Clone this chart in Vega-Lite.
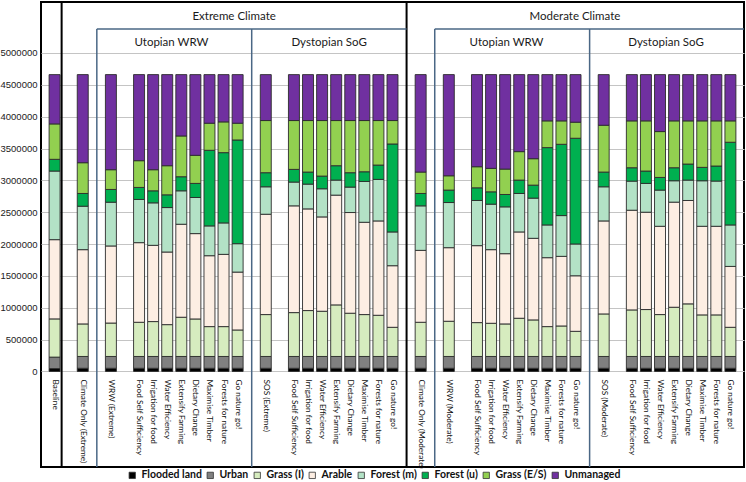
{
  "$schema": "https://vega.github.io/schema/vega-lite/v6.json",
  "width": 703,
  "height": 465,
  "autosize": {"type": "none"},
  "padding": {"left": 41, "top": 2, "right": 2, "bottom": 15},
  "background": "white",
  "config": {
    "view": {"stroke": "#000000", "strokeWidth": 2},
    "font": "Lato"
  },
  "datasets": {
    "ranks": [
      {"cover": "Flooded land", "rank": 1},
      {"cover": "Urban", "rank": 2},
      {"cover": "Grass (I)", "rank": 3},
      {"cover": "Arable", "rank": 4},
      {"cover": "Forest (m)", "rank": 5},
      {"cover": "Forest (u)", "rank": 6},
      {"cover": "Grass (E/S)", "rank": 7},
      {"cover": "Unmanaged", "rank": 8}
    ],
    "bars": [
      {"bar": "Baseline", "Flooded land": 45000, "Urban": 180000, "Grass (I)": 600000, "Arable": 1244000, "Forest (m)": 1077000, "Forest (u)": 184000, "Grass (E/S)": 556000, "Unmanaged": 774000},
      {"bar": "Climate Only (Extreme)", "Flooded land": 50000, "Urban": 185000, "Grass (I)": 511000, "Arable": 1166000, "Forest (m)": 682000, "Forest (u)": 200000, "Grass (E/S)": 483000, "Unmanaged": 1383000},
      {"bar": "WRW (Extreme)", "Flooded land": 50000, "Urban": 185000, "Grass (I)": 525000, "Arable": 1210000, "Forest (m)": 687000, "Forest (u)": 200000, "Grass (E/S)": 310000, "Unmanaged": 1493000},
      {"bar": "Food Self Sufficiency|1", "Flooded land": 50000, "Urban": 185000, "Grass (I)": 537000, "Arable": 1250000, "Forest (m)": 678000, "Forest (u)": 189000, "Grass (E/S)": 420000, "Unmanaged": 1351000},
      {"bar": "Irrigation for food|1", "Flooded land": 50000, "Urban": 185000, "Grass (I)": 548000, "Arable": 1197000, "Forest (m)": 667000, "Forest (u)": 189000, "Grass (E/S)": 331000, "Unmanaged": 1493000},
      {"bar": "Water Efficiency|1", "Flooded land": 50000, "Urban": 185000, "Grass (I)": 500000, "Arable": 1140000, "Forest (m)": 698000, "Forest (u)": 200000, "Grass (E/S)": 457000, "Unmanaged": 1430000},
      {"bar": "Extensify Farming|1", "Flooded land": 50000, "Urban": 185000, "Grass (I)": 616000, "Arable": 1460000, "Forest (m)": 525000, "Forest (u)": 221000, "Grass (E/S)": 640000, "Unmanaged": 963000},
      {"bar": "Dietary Change|1", "Flooded land": 50000, "Urban": 185000, "Grass (I)": 589000, "Arable": 1340000, "Forest (m)": 567000, "Forest (u)": 221000, "Grass (E/S)": 441000, "Unmanaged": 1267000},
      {"bar": "Maximise Timber|1", "Flooded land": 50000, "Urban": 185000, "Grass (I)": 469000, "Arable": 1113000, "Forest (m)": 468000, "Forest (u)": 1187000, "Grass (E/S)": 425000, "Unmanaged": 763000},
      {"bar": "Forests for nature|1", "Flooded land": 50000, "Urban": 185000, "Grass (I)": 469000, "Arable": 1134000, "Forest (m)": 494000, "Forest (u)": 1103000, "Grass (E/S)": 483000, "Unmanaged": 742000},
      {"bar": "Go nature go!|1", "Flooded land": 50000, "Urban": 185000, "Grass (I)": 416000, "Arable": 909000, "Forest (m)": 446000, "Forest (u)": 1628000, "Grass (E/S)": 263000, "Unmanaged": 763000},
      {"bar": "SOS (Extreme)", "Flooded land": 50000, "Urban": 185000, "Grass (I)": 658000, "Arable": 1575000, "Forest (m)": 431000, "Forest (u)": 221000, "Grass (E/S)": 819000, "Unmanaged": 721000},
      {"bar": "Food Self Sufficiency|2", "Flooded land": 50000, "Urban": 185000, "Grass (I)": 689000, "Arable": 1676000, "Forest (m)": 373000, "Forest (u)": 199000, "Grass (E/S)": 767000, "Unmanaged": 721000},
      {"bar": "Irrigation for food|2", "Flooded land": 50000, "Urban": 185000, "Grass (I)": 721000, "Arable": 1596000, "Forest (m)": 389000, "Forest (u)": 189000, "Grass (E/S)": 809000, "Unmanaged": 721000},
      {"bar": "Water Efficiency|2", "Flooded land": 50000, "Urban": 185000, "Grass (I)": 710000, "Arable": 1481000, "Forest (m)": 442000, "Forest (u)": 199000, "Grass (E/S)": 872000, "Unmanaged": 721000},
      {"bar": "Extensify Farming|2", "Flooded land": 50000, "Urban": 185000, "Grass (I)": 810000, "Arable": 1723000, "Forest (m)": 236000, "Forest (u)": 226000, "Grass (E/S)": 709000, "Unmanaged": 721000},
      {"bar": "Dietary Change|2", "Flooded land": 50000, "Urban": 185000, "Grass (I)": 679000, "Arable": 1581000, "Forest (m)": 399000, "Forest (u)": 226000, "Grass (E/S)": 819000, "Unmanaged": 721000},
      {"bar": "Maximise Timber|2", "Flooded land": 50000, "Urban": 185000, "Grass (I)": 658000, "Arable": 1449000, "Forest (m)": 641000, "Forest (u)": 152000, "Grass (E/S)": 804000, "Unmanaged": 721000},
      {"bar": "Forests for nature|2", "Flooded land": 50000, "Urban": 185000, "Grass (I)": 647000, "Arable": 1481000, "Forest (m)": 652000, "Forest (u)": 225000, "Grass (E/S)": 699000, "Unmanaged": 721000},
      {"bar": "Go nature go!|2", "Flooded land": 50000, "Urban": 185000, "Grass (I)": 458000, "Arable": 967000, "Forest (m)": 530000, "Forest (u)": 1381000, "Grass (E/S)": 368000, "Unmanaged": 721000},
      {"bar": "Climate Only (Moderate)", "Flooded land": 50000, "Urban": 185000, "Grass (I)": 537000, "Arable": 1129000, "Forest (m)": 699000, "Forest (u)": 194000, "Grass (E/S)": 336000, "Unmanaged": 1530000},
      {"bar": "WRW (Moderate)", "Flooded land": 50000, "Urban": 185000, "Grass (I)": 553000, "Arable": 1155000, "Forest (m)": 709000, "Forest (u)": 195000, "Grass (E/S)": 225000, "Unmanaged": 1588000},
      {"bar": "Food Self Sufficiency|3", "Flooded land": 50000, "Urban": 185000, "Grass (I)": 532000, "Arable": 1208000, "Forest (m)": 709000, "Forest (u)": 199000, "Grass (E/S)": 331000, "Unmanaged": 1446000},
      {"bar": "Irrigation for food|3", "Flooded land": 50000, "Urban": 185000, "Grass (I)": 521000, "Arable": 1156000, "Forest (m)": 714000, "Forest (u)": 194000, "Grass (E/S)": 368000, "Unmanaged": 1472000},
      {"bar": "Water Efficiency|3", "Flooded land": 50000, "Urban": 185000, "Grass (I)": 511000, "Arable": 1103000, "Forest (m)": 735000, "Forest (u)": 194000, "Grass (E/S)": 399000, "Unmanaged": 1483000},
      {"bar": "Extensify Farming|3", "Flooded land": 50000, "Urban": 185000, "Grass (I)": 600000, "Arable": 1355000, "Forest (m)": 604000, "Forest (u)": 210000, "Grass (E/S)": 447000, "Unmanaged": 1209000},
      {"bar": "Dietary Change|3", "Flooded land": 50000, "Urban": 185000, "Grass (I)": 574000, "Arable": 1281000, "Forest (m)": 631000, "Forest (u)": 204000, "Grass (E/S)": 415000, "Unmanaged": 1320000},
      {"bar": "Maximise Timber|3", "Flooded land": 50000, "Urban": 185000, "Grass (I)": 469000, "Arable": 1082000, "Forest (m)": 514000, "Forest (u)": 1214000, "Grass (E/S)": 420000, "Unmanaged": 726000},
      {"bar": "Forests for nature|3", "Flooded land": 50000, "Urban": 185000, "Grass (I)": 479000, "Arable": 1093000, "Forest (m)": 640000, "Forest (u)": 1119000, "Grass (E/S)": 368000, "Unmanaged": 726000},
      {"bar": "Go nature go!|3", "Flooded land": 50000, "Urban": 185000, "Grass (I)": 395000, "Arable": 872000, "Forest (m)": 499000, "Forest (u)": 1660000, "Grass (E/S)": 252000, "Unmanaged": 747000},
      {"bar": "SOS (Moderate)", "Flooded land": 50000, "Urban": 185000, "Grass (I)": 668000, "Arable": 1460000, "Forest (m)": 536000, "Forest (u)": 231000, "Grass (E/S)": 735000, "Unmanaged": 795000},
      {"bar": "Food Self Sufficiency|4", "Flooded land": 50000, "Urban": 185000, "Grass (I)": 731000, "Arable": 1565000, "Forest (m)": 457000, "Forest (u)": 210000, "Grass (E/S)": 736000, "Unmanaged": 726000},
      {"bar": "Irrigation for food|4", "Flooded land": 50000, "Urban": 185000, "Grass (I)": 737000, "Arable": 1528000, "Forest (m)": 452000, "Forest (u)": 194000, "Grass (E/S)": 788000, "Unmanaged": 726000},
      {"bar": "Water Efficiency|4", "Flooded land": 50000, "Urban": 185000, "Grass (I)": 658000, "Arable": 1386000, "Forest (m)": 568000, "Forest (u)": 199000, "Grass (E/S)": 720000, "Unmanaged": 894000},
      {"bar": "Extensify Farming|4", "Flooded land": 50000, "Urban": 185000, "Grass (I)": 773000, "Arable": 1650000, "Forest (m)": 336000, "Forest (u)": 204000, "Grass (E/S)": 736000, "Unmanaged": 726000},
      {"bar": "Dietary Change|4", "Flooded land": 50000, "Urban": 185000, "Grass (I)": 826000, "Arable": 1623000, "Forest (m)": 320000, "Forest (u)": 252000, "Grass (E/S)": 678000, "Unmanaged": 726000},
      {"bar": "Maximise Timber|4", "Flooded land": 50000, "Urban": 185000, "Grass (I)": 653000, "Arable": 1391000, "Forest (m)": 715000, "Forest (u)": 210000, "Grass (E/S)": 730000, "Unmanaged": 726000},
      {"bar": "Forests for nature|4", "Flooded land": 50000, "Urban": 185000, "Grass (I)": 653000, "Arable": 1391000, "Forest (m)": 710000, "Forest (u)": 236000, "Grass (E/S)": 709000, "Unmanaged": 726000},
      {"bar": "Go nature go!|4", "Flooded land": 50000, "Urban": 185000, "Grass (I)": 458000, "Arable": 956000, "Forest (m)": 651000, "Forest (u)": 1298000, "Grass (E/S)": 336000, "Unmanaged": 726000}
    ]
  },
  "layer": [
    {
      "data": {"name": "bars"},
      "transform": [
        {"fold": ["Flooded land", "Urban", "Grass (I)", "Arable", "Forest (m)", "Forest (u)", "Grass (E/S)", "Unmanaged"], "as": ["cover", "area"]},
        {"lookup": "cover", "from": {"data": {"name": "ranks"}, "key": "cover", "fields": ["rank"]}}
      ],
      "mark": {"type": "bar", "width": {"band": 0.78}, "stroke": "#2b2b2b", "strokeWidth": 0.9},
      "encoding": {
        "x": {
          "field": "bar",
          "type": "nominal",
          "sort": null,
          "title": null,
          "scale": {
            "type": "band",
            "paddingInner": 0,
            "paddingOuter": 0.465,
            "domain": ["Baseline", "_1", "Climate Only (Extreme)", "_3", "WRW (Extreme)", "_5",
              "Food Self Sufficiency|1", "Irrigation for food|1", "Water Efficiency|1", "Extensify Farming|1", "Dietary Change|1", "Maximise Timber|1", "Forests for nature|1", "Go nature go!|1",
              "_14", "SOS (Extreme)", "_16",
              "Food Self Sufficiency|2", "Irrigation for food|2", "Water Efficiency|2", "Extensify Farming|2", "Dietary Change|2", "Maximise Timber|2", "Forests for nature|2", "Go nature go!|2",
              "_25", "Climate Only (Moderate)", "_27", "WRW (Moderate)", "_29",
              "Food Self Sufficiency|3", "Irrigation for food|3", "Water Efficiency|3", "Extensify Farming|3", "Dietary Change|3", "Maximise Timber|3", "Forests for nature|3", "Go nature go!|3",
              "_38", "SOS (Moderate)", "_40",
              "Food Self Sufficiency|4", "Irrigation for food|4", "Water Efficiency|4", "Extensify Farming|4", "Dietary Change|4", "Maximise Timber|4", "Forests for nature|4", "Go nature go!|4"]
          },
          "axis": {
            "title": null,
            "orient": "bottom",
            "offset": -94,
            "domain": false,
            "ticks": false,
            "grid": false,
            "labelAngle": 90,
            "labelAlign": "left",
            "labelBaseline": "middle",
            "labelPadding": 6,
            "labelFont": "Lato",
            "labelFontSize": 8.3,
            "labelColor": "#111111",
            "labelOverlap": false,
            "labelBound": false,
            "labelExpr": "substring(datum.value,0,1)=='_' ? '' : split(datum.value,'|')[0]"
          }
        },
        "y": {
          "field": "area",
          "type": "quantitative",
          "stack": "zero",
          "title": null,
          "scale": {"domain": [-1500000, 5800000], "nice": false, "zero": false},
          "axis": {
            "title": null,
            "values": [0, 500000, 1000000, 1500000, 2000000, 2500000, 3000000, 3500000, 4000000, 4500000, 5000000],
            "format": "d",
            "grid": true,
            "gridColor": "#c4c4c4",
            "gridWidth": 1,
            "domain": false,
            "ticks": false,
            "labelPadding": 4,
            "labelFont": "Liberation Sans",
            "labelFontSize": 9.5,
            "labelColor": "#222222"
          }
        },
        "order": {"field": "rank", "type": "quantitative", "sort": "ascending"},
        "color": {
          "field": "cover",
          "type": "nominal",
          "scale": {
            "domain": ["Flooded land", "Urban", "Grass (I)", "Arable", "Forest (m)", "Forest (u)", "Grass (E/S)", "Unmanaged"],
            "range": ["#000000", "#808080", "#d6ecbf", "#fdeee3", "#b3e2c6", "#00b050", "#92d050", "#7030a0"]
          },
          "legend": {
            "title": null,
            "orient": "none",
            "direction": "horizontal",
            "legendX": 86,
            "legendY": 468,
            "symbolType": "square",
            "symbolSize": 40,
            "symbolStrokeColor": "#333333",
            "symbolStrokeWidth": 0.8,
            "labelFont": "Lato",
            "labelFontSize": 10.5,
            "labelFontWeight": "bold",
            "labelColor": "#111111",
            "labelOffset": 4,
            "columnPadding": 3
          }
        }
      }
    },
    {
      "data": {"values": [{}]},
      "mark": {"type": "rule", "color": "#000000", "strokeWidth": 2},
      "encoding": {
        "x": {"datum": "Baseline", "bandPosition": 1},
        "y": {"datum": -1500000},
        "y2": {"datum": 5800000}
      }
    },
    {
      "data": {"values": [{}]},
      "mark": {"type": "rule", "color": "#000000", "strokeWidth": 2},
      "encoding": {
        "x": {"datum": "_25"},
        "y": {"datum": -1500000},
        "y2": {"datum": 5800000}
      }
    },
    {
      "data": {"values": [{"at": "_3"}, {"at": "_14"}, {"at": "_27"}, {"at": "_38"}]},
      "mark": {"type": "rule", "color": "#4a6785", "strokeWidth": 1.5},
      "encoding": {
        "x": {"field": "at", "type": "nominal", "title": null},
        "y": {"datum": -1500000},
        "y2": {"datum": 5377000}
      }
    },
    {
      "data": {"values": [{}]},
      "mark": {"type": "rule", "color": "#4a6785", "strokeWidth": 1.5},
      "encoding": {
        "x": {"datum": "_3"},
        "x2": {"datum": "_25"},
        "y": {"datum": 5377000}
      }
    },
    {
      "data": {"values": [{}]},
      "mark": {"type": "rule", "color": "#4a6785", "strokeWidth": 1.5},
      "encoding": {
        "x": {"datum": "_27"},
        "x2": {"value": "width"},
        "y": {"datum": 5377000}
      }
    },
    {
      "data": {"values": [{}]},
      "mark": {"type": "text", "font": "Lato", "fontSize": 11.5, "color": "#1a1a1a", "baseline": "middle", "align": "center"},
      "encoding": {
        "x": {"datum": "Go nature go!|1", "bandPosition": 0.25},
        "y": {"datum": 5565000},
        "text": {"value": "Extreme Climate"}
      }
    },
    {
      "data": {"values": [{}]},
      "mark": {"type": "text", "font": "Lato", "fontSize": 11.5, "color": "#1a1a1a", "baseline": "middle", "align": "center"},
      "encoding": {
        "x": {"datum": "Go nature go!|3", "bandPosition": 0.46},
        "y": {"datum": 5565000},
        "text": {"value": "Moderate Climate"}
      }
    },
    {
      "data": {"values": [{}]},
      "mark": {"type": "text", "font": "Lato", "fontSize": 11.5, "color": "#1a1a1a", "baseline": "middle", "align": "center"},
      "encoding": {
        "x": {"datum": "Water Efficiency|1", "bandPosition": 0.8},
        "y": {"datum": 5157000},
        "text": {"value": "Utopian WRW"}
      }
    },
    {
      "data": {"values": [{}]},
      "mark": {"type": "text", "font": "Lato", "fontSize": 11.5, "color": "#1a1a1a", "baseline": "middle", "align": "center"},
      "encoding": {
        "x": {"datum": "Extensify Farming|2", "bandPosition": 0},
        "y": {"datum": 5157000},
        "text": {"value": "Dystopian SoG"}
      }
    },
    {
      "data": {"values": [{}]},
      "mark": {"type": "text", "font": "Lato", "fontSize": 11.5, "color": "#1a1a1a", "baseline": "middle", "align": "center"},
      "encoding": {
        "x": {"datum": "Water Efficiency|3", "bandPosition": 0.6},
        "y": {"datum": 5157000},
        "text": {"value": "Utopian WRW"}
      }
    },
    {
      "data": {"values": [{}]},
      "mark": {"type": "text", "font": "Lato", "fontSize": 11.5, "color": "#1a1a1a", "baseline": "middle", "align": "center"},
      "encoding": {
        "x": {"datum": "Water Efficiency|4", "bandPosition": 0.93},
        "y": {"datum": 5157000},
        "text": {"value": "Dystopian SoG"}
      }
    }
  ]
}
